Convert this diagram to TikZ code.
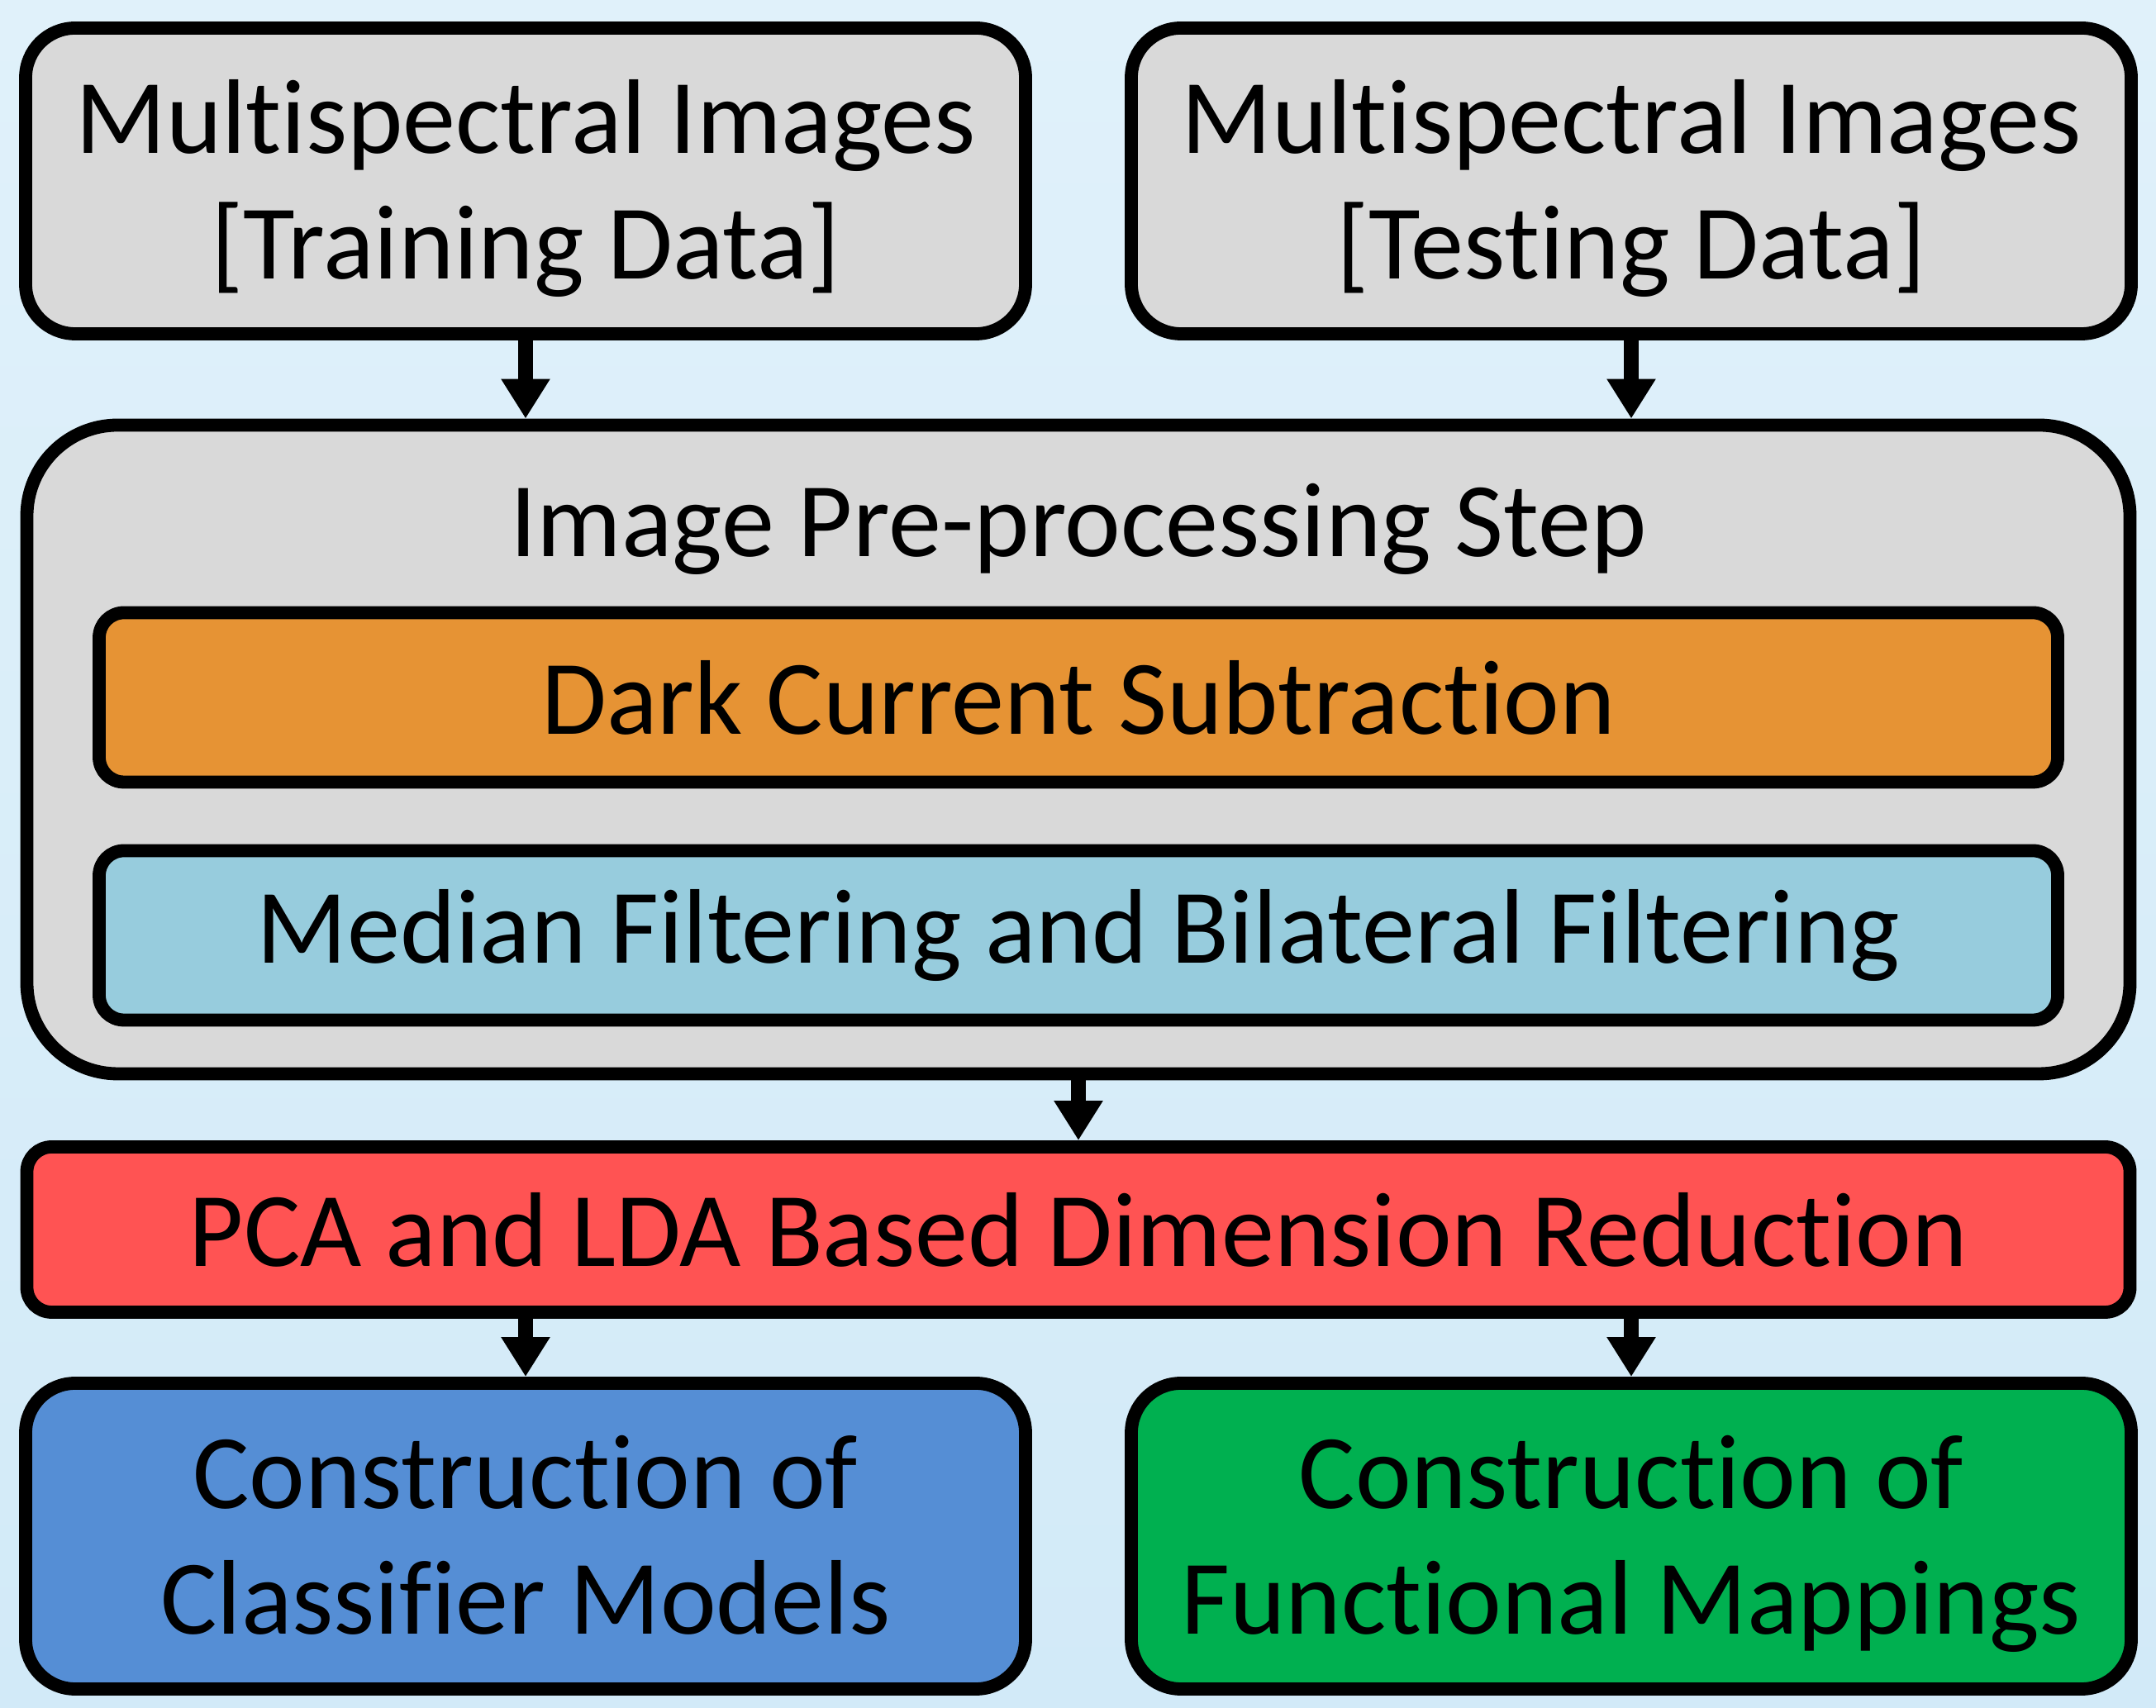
\documentclass[tikz,border=0pt]{standalone}
\usepackage{fontspec}
\setmainfont{Carlito}[RawFeature={-liga;-calt}]
\usetikzlibrary{positioning}
\usetikzlibrary{arrows.meta}

\definecolor{boxgray}{HTML}{D9D9D9}
\definecolor{darkorange}{HTML}{E69334}
\definecolor{filterblue}{HTML}{97CCDD}
\definecolor{pcared}{HTML}{FF5353}
\definecolor{classblue}{HTML}{558ED5}
\definecolor{mapgreen}{HTML}{00B050}

\tikzset{
  box/.style={draw, line width=4.5pt, rounded corners=0.6cm, align=center,
    inner sep=0pt, font=\fontsize{36.5}{43.5}\selectfont},
  twoline/.style={box, minimum width=12.1cm, minimum height=3.7cm,
    text height=2.6cm, text depth=0.22cm},
  flow/.style={line width=0.18cm, -{Triangle[width=0.56cm,length=0.48cm]}}
}

\begin{document}
\begin{tikzpicture}
\useasboundingbox (0,0) rectangle (26.09,20.67);
\fill[top color={rgb,255:red,224;green,241;blue,250}, bottom color={rgb,255:red,210;green,234;blue,248}]
  (0,0) rectangle (26.09,20.67);

\node (A) [twoline, fill=boxgray] at (6.36,18.48)
  {Multispectral Images\\{[}Training Data{]}};
\node (B) [twoline, fill=boxgray] at (19.74,18.48)
  {Multispectral Images\\{[}Testing Data{]}};

\node (C) [box, fill=boxgray, rounded corners=1.1cm, minimum width=25.45cm, minimum height=7.85cm] at (13.05,11.60) {};
\node (T) at (13.05,14.27) [font=\fontsize{36.5}{43.5}\selectfont] {Image Pre-processing Step};
\node (D) [box, fill=darkorange, rounded corners=0.3cm, minimum width=23.7cm, minimum height=2.05cm] at (13.05,12.23)
  {Dark Current Subtraction};
\node (E) [box, fill=filterblue, rounded corners=0.3cm, minimum width=23.7cm, minimum height=2.05cm] at (13.05,9.35)
  {Median Filtering and Bilateral Filtering};

\node (F) [box, fill=pcared, rounded corners=0.3cm, minimum width=25.45cm, minimum height=2.0cm] at (13.05,5.79)
  {PCA and LDA Based Dimension Reduction};

\node (G) [twoline, fill=classblue] at (6.36,2.08)
  {Construction of\\Classifier Models};
\node (H) [twoline, fill=mapgreen] at (19.74,2.08)
  {Construction of\\Functional Mappings};

%
\draw [flow] (A.south) -- (A.south |- C.north);
\draw [flow] (B.south) -- (B.south |- C.north);
\draw [flow] (C.south) -- (F.north);
\draw [flow] (F.south -| G.north) -- (G.north);
\draw [flow] (F.south -| H.north) -- (H.north);
\end{tikzpicture}
\end{document}
